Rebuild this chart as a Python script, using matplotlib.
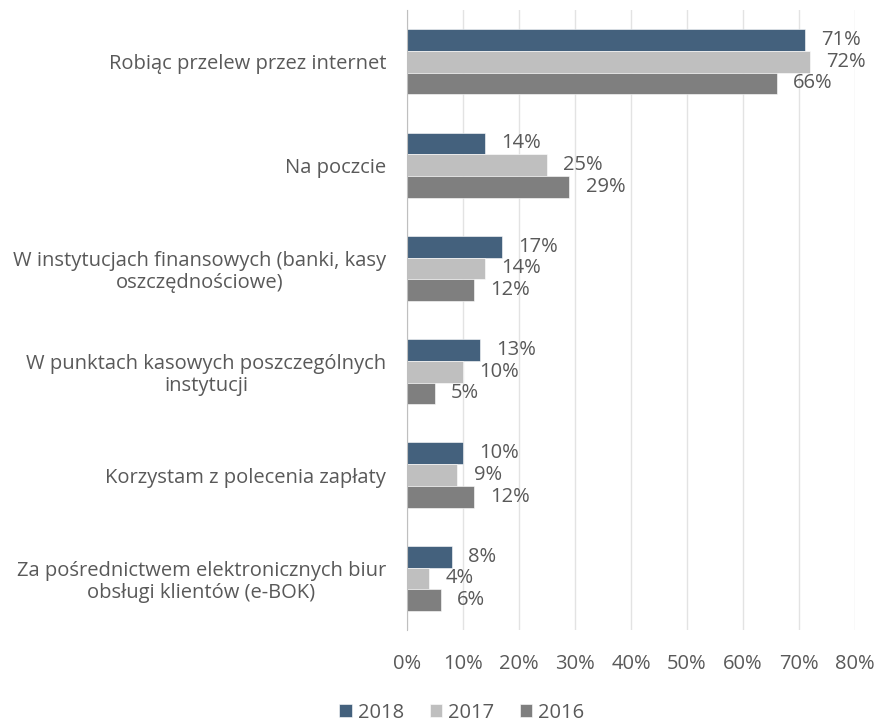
import matplotlib.pyplot as plt
import numpy as np

categories = [
    "Robiąc przelew przez internet",
    "Na poczcie",
    "W instytucjach finansowych (banki, kasy\noszczędnościowe)",
    "W punktach kasowych poszczególnych\ninstytucji",
    "Korzystam z polecenia zapłaty",
    "Za pośrednictwem elektronicznych biur\nobsługi klientów (e-BOK)",
]
years = ["2018", "2017", "2016"]
values_2018 = [71, 14, 17, 13, 10, 8]
values_2017 = [72, 25, 14, 10, 9, 4]
values_2016 = [66, 29, 12, 5, 12, 6]
colors = ["#44617D", "#BFBFBF", "#7F7F7F"]


def main():
    plt.rcParams['font.family'] = ['Open Sans', 'DejaVu Sans']
    text_color = "#595959"

    fig = plt.figure(figsize=(8.8, 7.22), dpi=100)
    ax = fig.add_axes([0.4625, 0.1274, 0.5091, 0.8586])

    series = [values_2018, values_2017, values_2016]
    y = np.arange(len(categories))
    h = 0.21
    for i, (vals, year, col) in enumerate(zip(series, years, colors)):
        pos = y + (i - 1) * h
        ax.barh(pos, vals, height=h, color=col, label=year,
                edgecolor="white", linewidth=0.4, zorder=3)
        for p, v in zip(pos, vals):
            ax.text(v + 2.9, p, f"{v}%", va="center", ha="left",
                    fontsize=14.5, color=text_color)

    ax.set_xlim(0, 80)
    ax.set_ylim(len(categories) - 0.5, -0.5)
    ax.set_xticks(range(0, 81, 10))
    ax.set_xticklabels([f"{t}%" for t in range(0, 81, 10)])
    ax.set_yticks(y)
    ax.set_yticklabels(categories, multialignment="center", linespacing=1.15)
    ax.tick_params(axis="both", length=0, colors=text_color, labelsize=14.5)
    ax.tick_params(axis="x", pad=17)
    ax.tick_params(axis="y", pad=15)
    ax.grid(axis="x", color="#E3E3E3", linewidth=1, zorder=0)
    for s in ["top", "right", "bottom"]:
        ax.spines[s].set_visible(False)
    ax.spines["left"].set_color("#BFBFBF")
    ax.spines["left"].set_zorder(4)

    fig.legend(loc="lower center", bbox_to_anchor=(0.525, -0.026), ncol=3,
               frameon=False, fontsize=14.5, handlelength=0.6, handleheight=0.6,
               handletextpad=0.3, columnspacing=1.3, labelcolor=text_color)

    fig.savefig("out.png", dpi=100)


if __name__ == "__main__":
    main()
